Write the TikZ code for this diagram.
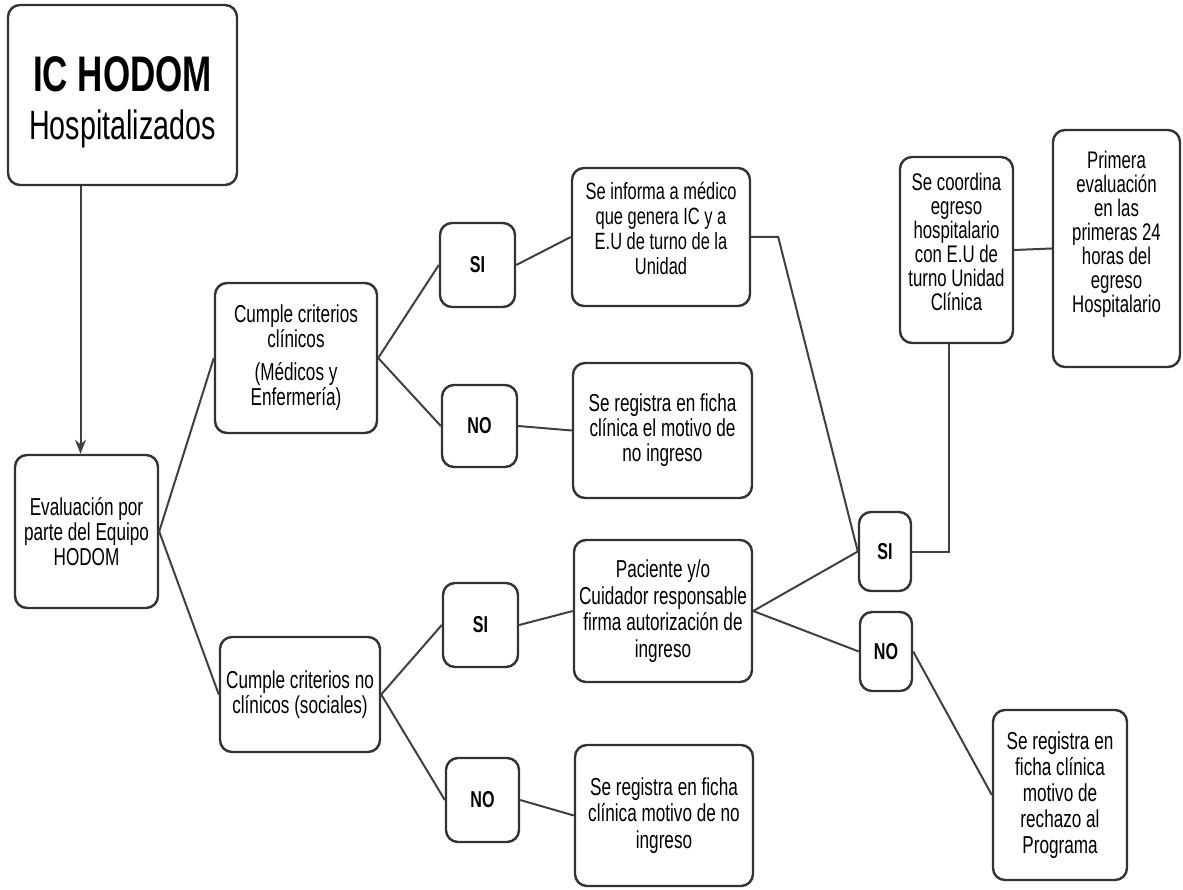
\documentclass[tikz,border=0pt]{standalone}
\usepackage{fontspec}
\setmainfont{Liberation Sans}[FakeStretch=0.7]
\usetikzlibrary{arrows.meta,calc}
\tikzset{
  box/.style={draw=black!80, line width=2.4pt, rounded corners=12pt, align=center, inner sep=0pt, font=\fontsize{24.5}{25}\selectfont},
  txt/.style={align=center, inner sep=0pt, font=\fontsize{24.5}{25}\selectfont},
  yn/.style={box, font=\bfseries\fontsize{23}{24}\selectfont},
  conn/.style={draw=black!75, line width=2pt},
}
\begin{document}
\begin{tikzpicture}[x=1pt,y=-1pt]
\useasboundingbox (0,0) rectangle (1183,890);
% nodes
\node[box, minimum width=229pt, minimum height=180pt] (ic) at (122.5,95) {};
\node[txt, font=\fontsize{41}{48}\selectfont] (ic-t) at (122.5,102) {{\bfseries\fontsize{50}{48}\selectfont IC HODOM}\\{\fontsize{41}{48}\selectfont Hospitalizados}};
\node[box, minimum width=143pt, minimum height=153pt] (ev) at (86.5,531.5) {Evaluación por\\parte del Equipo\\HODOM};
\node[box, minimum width=162pt, minimum height=150pt] (cc) at (296,358) {Cumple criterios\\clínicos\\[8pt](Médicos y\\Enfermería)};
\node[box, minimum width=160pt, minimum height=115pt] (cn) at (300,694.5) {Cumple criterios no\\clínicos (sociales)};
\node[yn, minimum width=75pt, minimum height=84pt] (si1) at (477.5,265) {SI};
\node[yn, minimum width=75pt, minimum height=82pt] (no1) at (479.5,426) {NO};
\node[yn, minimum width=75pt, minimum height=84pt] (si3) at (480.5,625) {SI};
\node[yn, minimum width=73pt, minimum height=84pt] (no3) at (482.5,800) {NO};
\node[box, minimum width=178pt, minimum height=138pt] (inf) at (661,237) {};
\node[txt, font=\fontsize{23.5}{25}\selectfont] (inf-t) at (661,228) {Se informa a médico\\que genera IC y a\\E.U de turno de la\\Unidad};
\node[box, minimum width=179pt, minimum height=135pt] (reg1) at (662.5,430.5) {Se registra en ficha\\clínica el motivo de\\no ingreso};
\node[box, minimum width=178pt, minimum height=142pt, font=\fontsize{24.5}{26.5}\selectfont] (pac) at (663,611) {Paciente y/o\\Cuidador responsable\\firma autorización de\\ingreso};
\node[box, minimum width=178pt, minimum height=141pt, font=\fontsize{24.5}{26.5}\selectfont] (reg2) at (664,815.5) {Se registra en ficha\\clínica motivo de no\\ingreso};
\node[box, minimum width=113pt, minimum height=186pt] (coord) at (956.5,250) {};
\node[txt, font=\fontsize{24}{24}\selectfont] (coord-t) at (956.5,242) {Se coordina\\egreso\\hospitalario\\con E.U de\\turno Unidad\\Clínica};
\node[box, minimum width=127pt, minimum height=237pt] (prim) at (1116.5,248.5) {};
\node[txt, font=\fontsize{24}{24}\selectfont] (prim-t) at (1116.5,234) {Primera\\evaluación\\en las\\primeras 24\\horas del\\egreso\\Hospitalario};
\node[yn, minimum width=52pt, minimum height=79pt] (si2) at (885,551.5) {SI};
\node[yn, minimum width=52pt, minimum height=79pt] (no2) at (886,651.5) {NO};
\node[box, minimum width=134pt, minimum height=170pt, font=\fontsize{24.5}{26}\selectfont] (reg3) at (1060,795) {Se registra en\\ficha clínica\\motivo de\\rechazo al\\Programa};
% connectors
\draw[conn, -{Stealth[length=14pt,width=11pt]}] ([xshift=-6pt]ev.north |- ic.south) -- ([xshift=-6pt]ev.north);
\draw[conn] (ev.east) -- (cc.west);
\draw[conn] (ev.east) -- (cn.west);
\draw[conn] (cc.east) -- (si1.west);
\draw[conn] (cc.east) -- (no1.west);
\draw[conn] (si1.east) -- (inf.west);
\draw[conn] (no1.east) -- (reg1.west);
\draw[conn] (cn.east) -- (si3.west);
\draw[conn] (cn.east) -- (no3.west);
\draw[conn] (si3.east) -- (pac.west);
\draw[conn] (no3.east) -- (reg2.west);
\draw[conn] (inf.east) -- ++(27,0) -- (si2.west);
\draw[conn] (pac.east) -- (si2.west);
\draw[conn] (pac.east) -- (no2.west);
\draw[conn] (no2.east) -- (reg3.west);
\draw[conn] (si2.east) -| ([xshift=-8pt]coord.south);
\draw[conn] (coord.east) -- (prim.west);
\end{tikzpicture}
\end{document}
